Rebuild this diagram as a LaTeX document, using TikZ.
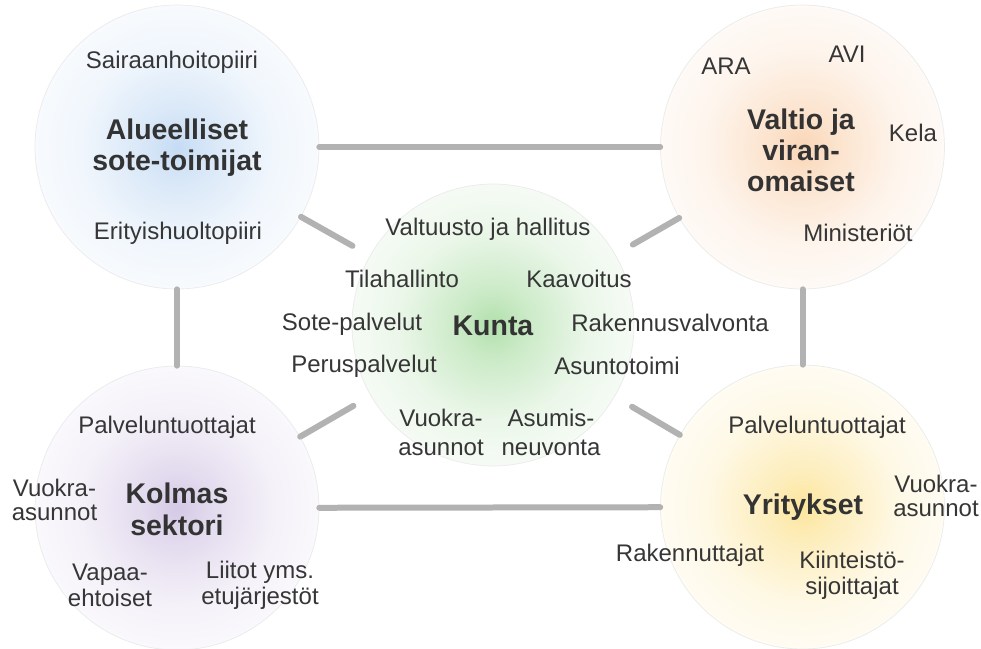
\documentclass[tikz,border=0pt]{standalone}
\usepackage{fontspec}
\setmainfont{Liberation Sans}
\definecolor{cblue}{HTML}{C6DCF4}
\definecolor{corange}{HTML}{FAD6B6}
\definecolor{cgreen}{HTML}{B2E0AC}
\definecolor{cpurple}{HTML}{D5C9E6}
\definecolor{cyellow}{HTML}{FCE59C}
\definecolor{txt}{HTML}{363636}
\definecolor{ttlc}{HTML}{333333}
\newcommand\mkglow[2]{%
  \colorlet{#1a}{#2}\colorlet{#1b}{#2!68!white}\colorlet{#1c}{#2!26!white}\colorlet{#1d}{#2!6!white}\colorlet{#1e}{#2!1!white}%
  \pgfdeclareradialshading{#1}{\pgfpoint{0bp}{0bp}}{color(0bp)=(#1a); color(6bp)=(#1b); color(17bp)=(#1c); color(29bp)=(#1d); color(40bp)=(#1e); color(50bp)=(white)}}
\mkglow{glowblue}{cblue}
\mkglow{gloworange}{corange}
\mkglow{glowgreen}{cgreen}
\mkglow{glowpurple}{cpurple}
\mkglow{glowyellow}{cyellow}
\tikzset{
  circ/.style={circle, draw=black!8, line width=0.4pt, minimum size=5.68cm, inner sep=0pt},
  conn/.style={draw=black!30, line width=0.12cm, line cap=round},
  lbl/.style={text=txt, font=\fontsize{13.66}{16}\selectfont, align=center, inner sep=0pt},
  ttl/.style={text=ttlc, font=\bfseries\fontsize{16.2}{17.6}\selectfont, align=center, inner sep=0pt},
}
\begin{document}
\begin{tikzpicture}[x=0.02cm, y=-0.02cm]
\fill[white] (0,0) rectangle (981,649);
\useasboundingbox (0,0) rectangle (981,649);
% circles
\node[circ, shading=glowblue]   (TL) at (177,147) {};
\node[circ, shading=gloworange] (TR) at (802.5,147) {};
\node[circ, shading=glowgreen, minimum size=5.64cm] (K) at (493,325) {};
\node[circ, shading=glowpurple] (BL) at (177,508) {};
\node[circ, shading=glowyellow] (BR) at (802.5,507) {};
% connectors
\draw[conn] (TL) -- (TR);
\draw[conn] (BL) -- (BR);
\draw[conn] (TL) -- (BL);
\draw[conn] (TR) -- (BR);
\draw[conn, shorten >=0.4cm] (TL) -- (K);
\draw[conn, shorten >=0.4cm] (TR) -- (K);
\draw[conn, shorten >=0.4cm] (BL) -- (K);
\draw[conn, shorten >=0.4cm] (BR) -- (K);
% TL texts
\node[lbl] (tl1) at (172,62) {Sairaanhoitopiiri};
\node[ttl] (tlt) at (177,148) {Alueelliset\\sote-toimijat};
\node[lbl] (tl2) at (178,233) {Erityishuoltopiiri};
% TR texts
\node[lbl] (tr1) at (726,66) {ARA};
\node[lbl] (tr2) at (847,54) {AVI};
\node[ttl] (trt) at (801,150) {Valtio ja\\viran-\\omaiset};
\node[lbl] (tr3) at (913,133) {Kela};
\node[lbl] (tr4) at (858,233) {Ministeriöt};
% Kunta texts
\node[lbl] (k1) at (488,229) {Valtuusto ja hallitus};
\node[lbl] (k2) at (402,279) {Tilahallinto};
\node[lbl] (k3) at (579,279) {Kaavoitus};
\node[lbl] (k4) at (352,324) {Sote-palvelut};
\node[ttl] (kt) at (493,326) {Kunta};
\node[lbl] (k5) at (670,323) {Rakennusvalvonta};
\node[lbl] (k6) at (364,366) {Peruspalvelut};
\node[lbl] (k7) at (617,366) {Asuntotoimi};
\node[lbl, font=\fontsize{13.66}{16.5}\selectfont] (k8) at (441,432) {Vuokra-\\asunnot};
\node[lbl, font=\fontsize{13.66}{16.5}\selectfont] (k9) at (551,432) {Asumis-\\neuvonta};
% BL texts
\node[lbl] (bl1) at (167,427) {Palveluntuottajat};
\node[lbl, font=\fontsize{13.66}{13.4}\selectfont] (bl2) at (54.5,500) {Vuokra-\\asunnot};
\node[ttl, font=\bfseries\fontsize{16.2}{18.2}\selectfont] (blt) at (177,509) {Kolmas\\sektori};
\node[lbl, font=\fontsize{13.66}{14.8}\selectfont] (bl3) at (110,585) {Vapaa-\\ehtoiset};
\node[lbl, font=\fontsize{13.66}{14.8}\selectfont] (bl4) at (260,585) {Liitot yms.\\etujärjestöt};
% BR texts
\node[lbl] (br1) at (817,427) {Palveluntuottajat};
\node[ttl] (brt) at (803,507) {Yritykset};
\node[lbl, font=\fontsize{13.66}{13.3}\selectfont] (br2) at (936,496) {Vuokra-\\asunnot};
\node[lbl] (br3) at (690,555) {Rakennuttajat};
\node[lbl, font=\fontsize{13.66}{14.8}\selectfont] (br4) at (852,575) {Kiinteistö-\\sijoittajat};
\end{tikzpicture}
\end{document}
